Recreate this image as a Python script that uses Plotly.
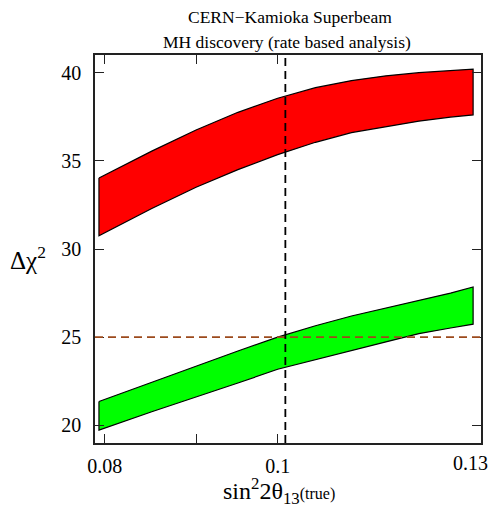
"""
CERN-Kamioka superbeam: mass hierarchy discovery bands vs sin^2 2theta13 (true).
"""

import plotly.graph_objects as go

# sin^2 2theta13 (true) grid
S2T13 = [0.0794, 0.085, 0.09, 0.095, 0.1, 0.105, 0.11, 0.115, 0.12, 0.125, 0.1287]

# NH (true) band
NH_UPPER = [34.03, 35.55, 36.75, 37.75, 38.55, 39.15, 39.55, 39.82, 40.0, 40.13, 40.2]
NH_LOWER = [30.75, 32.3, 33.5, 34.5, 35.35, 36.05, 36.6, 36.95, 37.25, 37.48, 37.6]

# IH (true) band
IH_UPPER = [21.35, 22.45, 23.37, 24.22, 25.0, 25.65, 26.2, 26.65, 27.05, 27.5, 27.85]
IH_LOWER = [19.73, 20.77, 21.62, 22.4, 23.18, 23.76, 24.24, 24.73, 25.2, 25.52, 25.74]

FIVE_SIGMA = 25
THETA_REF = 0.101

X_TICKS = [0.08, 0.09, 0.1]
X_TICK_TEXT = ["0.08", "", "0.1"]
X_LAST_LABEL = "0.13"
Y_TICKS = [20, 25, 30, 35, 40]

FONT = "Liberation Serif"
PW, PH = 388, 388  # plot area size in px


def band(upper, lower, color):
	xs = S2T13 + S2T13[::-1] + [S2T13[0]]
	ys = upper + lower[::-1] + [upper[0]]
	return go.Scatter(
		x=xs, y=ys, mode="lines", fill="toself", fillcolor=color,
		line=dict(color="black", width=1.2), hoverinfo="skip",
	)


def paper_note(text, dx, dy, size):
	# dx, dy: pixel offsets from the plot's top-left corner (dy downwards)
	fig.add_annotation(
		x=dx / PW, y=1 - dy / PH, xref="paper", yref="paper",
		xanchor="center", yanchor="middle", text=text, showarrow=False,
		font=dict(family=FONT, size=size, color="black"),
	)


fig = go.Figure()
fig.add_trace(band(NH_UPPER, NH_LOWER, "#ff0000"))
fig.add_trace(band(IH_UPPER, IH_LOWER, "#00ff00"))

# 5 sigma line and reference theta13 line
fig.add_hline(y=FIVE_SIGMA, line=dict(color="#9c4a1c", width=1.8, dash="8px,5px"))
fig.add_vline(x=THETA_REF, line=dict(color="black", width=1.8, dash="8px,5px"))

txt = dict(family=FONT, size=17, color="black")
fig.add_annotation(x=0.0931, y=38.5, text="NH (true)", showarrow=False, font=txt)
fig.add_annotation(x=0.1107, y=27.3, text="IH (true)", showarrow=False, font=txt)
fig.add_annotation(x=0.0839, y=25.6, text="5σ", showarrow=False, font=dict(family=FONT, size=17))

# last x tick label sits just inside the frame edge
paper_note(X_LAST_LABEL, 377, 408, 20)

# titles above the frame
paper_note("CERN−Kamioka Superbeam", 196, -38, 17.5)
paper_note("MH discovery (rate based analysis)", 193, -13, 17.5)

# axis titles
paper_note("sin<sup>2</sup>2θ<sub>13</sub><span style='font-size:16px'>(true)</span>", 185, 436, 24)
paper_note("Δχ<sup>2</sup>", -67, 203, 25)

axis_style = dict(
	showgrid=False, zeroline=False, showline=True, linecolor="#222", linewidth=1.5,
	mirror="ticks", ticks="inside", ticklen=9, tickwidth=1.2, tickcolor="#222",
	tickfont=dict(family=FONT, size=20, color="black"),
)

# page body adds an 8px margin, so keep the figure inside the window
fig.update_layout(
	width=482, height=502,
	margin=dict(l=87, r=7, t=47, b=67),
	showlegend=False,
	plot_bgcolor="white", paper_bgcolor="white",
	xaxis=dict(type="log", range=[-1.1024, -0.8860], tickvals=X_TICKS,
		ticktext=X_TICK_TEXT, ticklabelstandoff=4, **axis_style),
	yaxis=dict(range=[19, 41], tickvals=Y_TICKS, ticklabelstandoff=8, **axis_style),
)

fig.write_html("out.html")
